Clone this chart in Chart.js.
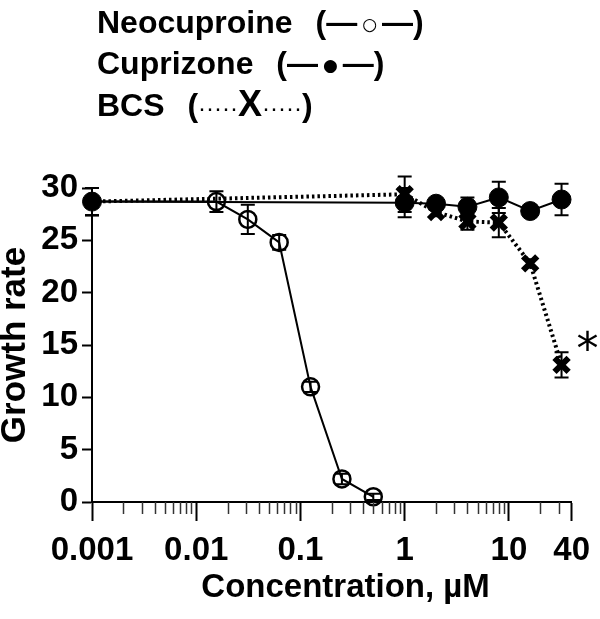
<!DOCTYPE html>
<html>
<head>
<meta charset="utf-8">
<script src="https://cdn.jsdelivr.net/npm/chart.js@4.4.1/dist/chart.umd.min.js"></script>
<style>
  html, body { margin: 0; padding: 0; background: #fff; }
  #wrap { position: relative; width: 600px; height: 619px; }
  #legend {
    position: absolute; left: 97px; top: 2px;
    font: bold 32px 'Liberation Sans', Arial, sans-serif;
    line-height: 40px; color: #000; white-space: nowrap;
  }
  #legend .p { margin-left: 14px; }
  #legend .dash { font-size: 31px; }
  #legend .sym { font: 17px 'DejaVu Sans', sans-serif; margin: 0 5px; position: relative; top: -3px; }
  #legend .dots { font: normal 24px 'Liberation Sans', Arial, sans-serif; }
  #legend .bx { font-size: 36px; }
  canvas { position: absolute; left: 0; top: 0; }
</style>
</head>
<body>
<div id="wrap">
  <canvas id="growthChart" width="600" height="619"></canvas>
  <div id="legend">
    <div>Neocuproine <span class="p">(</span><span class="dash">—</span><span class="sym">○</span><span class="dash">—</span>)</div>
    <div>Cuprizone <span class="p">(</span><span class="dash">—</span><span class="sym">●</span><span class="dash">—</span>)</div>
    <div>BCS <span class="p">(</span><span class="dots">·····</span><span class="bx">X</span><span class="dots">·····</span>)</div>
  </div>
</div>
<script>
// x axis ticks (log scale, µM)
const majorTicks = [0.001, 0.01, 0.1, 1, 10, 40];
const tickLabels = ['0.001', '0.01', '0.1', '1', '10', '40'];
const minorTicks = [];
for (let e = -3; e <= 0; e++) {
  for (let m = 2; m <= 9; m++) minorTicks.push(+(m * Math.pow(10, e)).toPrecision(2));
}
minorTicks.push(20, 30);

// Neocuproine
const neoConc = [0.001, 0.015625, 0.03125, 0.0625, 0.125, 0.25, 0.5];
const neoRate = [28.7, 28.7, 27.0, 24.8, 11.0, 2.2, 0.5];
const neoErr  = [1.3, 1.0, 1.4, 0.7, 0.5, 0.5, 0.3];

// Cuprizone
const cupConc = [0.001, 1, 2, 4, 8, 16, 32];
const cupRate = [28.7, 28.6, 28.5, 28.2, 29.1, 27.8, 28.9];
const cupErr  = [1.3, 1.4, 0.4, 0.9, 1.5, 0.4, 1.5];

// BCS
const bcsConc = [0.001, 1, 2, 4, 8, 16, 32];
const bcsRate = [28.7, 29.4, 27.7, 26.8, 26.7, 22.8, 13.1];
const bcsErr  = [1.3, 1.7, 0.4, 0.8, 1.4, 0.4, 1.2];

const toPoints = (xs, ys) => xs.map((x, i) => ({ x: x, y: ys[i] }));

// error bars, minor x ticks and the significance mark
const extras = {
  id: 'extras',
  beforeDatasetsDraw(chart) {
    const ctx = chart.ctx;
    const xs = chart.scales.x, ys = chart.scales.y;
    ctx.save();
    ctx.strokeStyle = '#000';
    ctx.lineWidth = 2;
    chart.data.datasets.forEach(ds => {
      ds.errors.forEach((err, i) => {
        const pt = ds.data[i];
        const px = xs.getPixelForValue(pt.x);
        const top = ys.getPixelForValue(pt.y + err);
        const bot = ys.getPixelForValue(pt.y - err);
        ctx.beginPath();
        ctx.moveTo(px, top); ctx.lineTo(px, bot);
        ctx.moveTo(px - 7, top); ctx.lineTo(px + 7, top);
        ctx.moveTo(px - 7, bot); ctx.lineTo(px + 7, bot);
        ctx.stroke();
      });
    });
    ctx.restore();
  },
  afterDraw(chart) {
    const ctx = chart.ctx;
    const xs = chart.scales.x, ys = chart.scales.y;
    ctx.save();
    ctx.strokeStyle = '#333';
    ctx.lineWidth = 1.5;
    minorTicks.forEach(v => {
      const px = Math.round(xs.getPixelForValue(v)) + 0.5;
      ctx.beginPath();
      ctx.moveTo(px, xs.top);
      ctx.lineTo(px, xs.top + 12);
      ctx.stroke();
    });
    const last = bcsConc.length - 1;
    ctx.fillStyle = '#000';
    ctx.font = '44px "DejaVu Sans"';
    ctx.textAlign = 'center';
    ctx.textBaseline = 'middle';
    ctx.fillText('*', xs.getPixelForValue(bcsConc[last]) + 26, ys.getPixelForValue(bcsRate[last]) - 12);
    ctx.restore();
  }
};

Chart.defaults.font.family = "'Liberation Sans', Arial, sans-serif";
Chart.defaults.font.weight = 'bold';
Chart.defaults.color = '#000';

const context = document.getElementById('growthChart').getContext('2d');
const chart = new Chart(context, {
  type: 'line',
  data: {
    datasets: [{
      label: 'Cuprizone',
      data: toPoints(cupConc, cupRate),
      errors: cupErr,
      borderColor: '#000',
      borderWidth: 2,
      backgroundColor: '#000',
      pointStyle: 'circle',
      pointRadius: 9.5,
      pointBorderWidth: 1,
      clip: false
    }, {
      label: 'Neocuproine',
      data: toPoints(neoConc, neoRate),
      errors: neoErr,
      borderColor: '#000',
      borderWidth: 2,
      backgroundColor: 'rgba(0,0,0,0)',
      pointStyle: 'circle',
      pointRadius: neoConc.map((c, i) => i === 0 ? 0 : 8.5),
      pointBorderWidth: 2.5,
      clip: false
    }, {
      label: 'BCS',
      data: toPoints(bcsConc, bcsRate),
      errors: bcsErr,
      borderColor: '#000',
      borderWidth: 4,
      borderDash: [2.5, 3],
      backgroundColor: '#000',
      pointStyle: 'crossRot',
      pointRadius: bcsConc.map((c, i) => i === 0 ? 0 : 10),
      pointBorderWidth: 6,
      clip: false
    }]
  },
  options: {
    responsive: false,
    animation: false,
    layout: { padding: { top: 188, right: 26, left: 0, bottom: 0 } },
    plugins: { legend: { display: false }, tooltip: { enabled: false } },
    scales: {
      x: {
        type: 'logarithmic',
        min: 0.001,
        max: 40,
        afterBuildTicks: s => { s.ticks = majorTicks.concat(minorTicks).sort((a, b) => a - b).map(v => ({ value: v })); },
        afterFit: s => { s.height = 117; },
        border: { color: '#000', width: 2 },
        grid: {
          drawOnChartArea: false,
          tickLength: 19,
          tickWidth: 2,
          tickColor: c => (c.tick && majorTicks.includes(c.tick.value)) ? '#000' : 'rgba(0,0,0,0)'
        },
        ticks: {
          autoSkip: false,
          maxRotation: 0,
          padding: 10,
          font: { size: 33, weight: 'bold' },
          callback: v => { const i = majorTicks.indexOf(v); return i >= 0 ? tickLabels[i] : ''; }
        },
        title: {
          display: true,
          text: '   Concentration, µM',
          font: { size: 33, weight: 'bold' },
          padding: { top: 0, bottom: 11 }
        }
      },
      y: {
        min: 0,
        max: 30,
        afterFit: s => { s.width = 92; },
        border: { color: '#000', width: 2 },
        grid: { drawOnChartArea: false, tickLength: 10, tickWidth: 2, tickColor: '#000' },
        ticks: { stepSize: 5, padding: 4, font: { size: 33, weight: 'bold' } },
        title: {
          display: true,
          text: 'Growth rate',
          font: { size: 35, weight: 'bold', lineHeight: 0.9 },
          padding: { top: 0, bottom: 0 }
        }
      }
    }
  },
  plugins: [extras]
});
</script>
</body>
</html>
